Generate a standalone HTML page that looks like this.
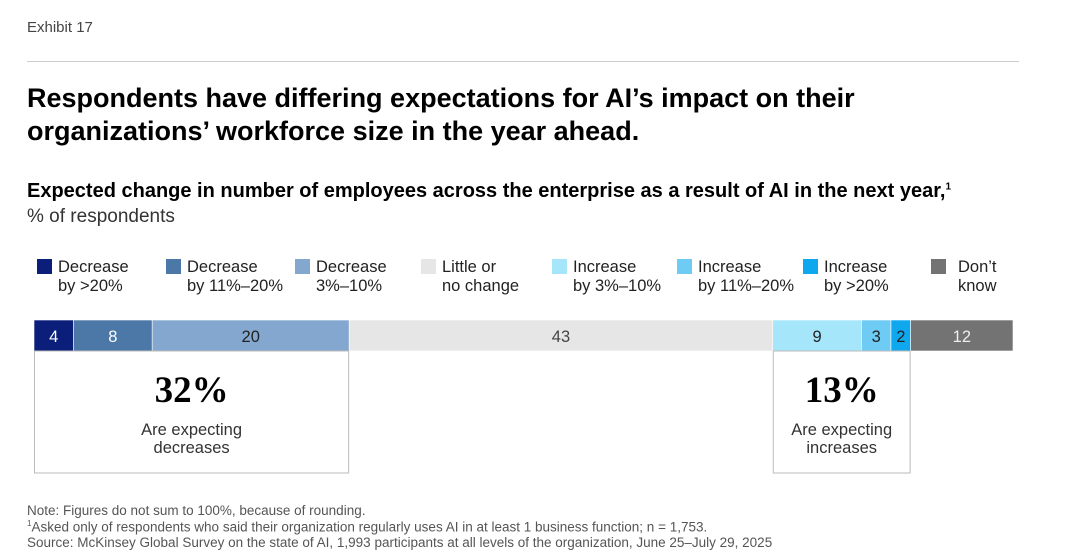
<!DOCTYPE html>
<html><head><meta charset="utf-8">
<style>
body{margin:0;width:1080px;height:556px;background:#fff;font-family:"Liberation Sans",sans-serif;color:#000;position:relative;overflow:hidden}
.abs{position:absolute}
.leg{position:absolute;top:258px;font-size:16.5px;line-height:19px;color:#222}
.sw{position:absolute;left:0;top:1px;width:15px;height:15px}
.leg span{position:absolute;left:21px;white-space:nowrap}
.note{position:absolute;left:27px;font-size:13.5px;color:#555;white-space:nowrap}
</style></head><body>
<div class="abs" style="left:27px;top:19px;font-size:15px;color:#444">Exhibit 17</div>
<div class="abs" style="left:27px;top:61px;width:992px;height:1px;background:#ccc"></div>
<div class="abs" style="left:27px;top:82px;font-size:27px;font-weight:bold;line-height:33px">Respondents have differing expectations for AI’s impact on their<br>organizations’ workforce size in the year ahead.</div>
<div class="abs" style="left:27px;top:180px;font-size:20px;font-weight:bold;white-space:nowrap">Expected change in number of employees across the enterprise as a result of AI in the next year,<sup style="font-size:10px">1</sup></div>
<div class="abs" style="left:27px;top:206px;font-size:19px;color:#333">% of respondents</div>
<div id="legend"></div>
<svg class="abs" style="left:0;top:0" width="1080" height="556" id="chart"></svg>
<div class="note" style="top:503px">Note: Figures do not sum to 100%, because of rounding.</div>
<div class="note" style="top:519px"><sup style="font-size:8px">1</sup>Asked only of respondents who said their organization regularly uses AI in at least 1 business function; n = 1,753.</div>
<div class="note" style="top:535px">Source: McKinsey Global Survey on the state of AI, 1,993 participants at all levels of the organization, June 25–July 29, 2025</div>
<script>
const categories=["Decrease by >20%","Decrease by 11%–20%","Decrease 3%–10%","Little or no change","Increase by 3%–10%","Increase by 11%–20%","Increase by >20%","Don't know"];
const legendLines=[["Decrease","by >20%"],["Decrease","by 11%–20%"],["Decrease","3%–10%"],["Little or","no change"],["Increase","by 3%–10%"],["Increase","by 11%–20%"],["Increase","by >20%"],["Don’t","know"]];
const values=[4,8,20,43,9,3,2,12];
const summaryValues=["32%","13%"];
const summaryLabels=[["Are expecting","decreases"],["Are expecting","increases"]];
const colors=["#0b1f7a","#4c78a8","#84a7cf","#e6e6e6","#a6e6fb","#6ecbf3","#0fa8ee","#737373"];
const textColors=["#fff","#fff","#222","#444","#222","#222","#222","#eee"];
const legendX=[37,166,295,421,552,677,803,931];
const X0=34,X1=1013,BY=320,BH=31,UNIT=9.85;
const sx=v=>Math.min(X1,X0+v*UNIT);
const svg=document.getElementById('chart');const NS="http://www.w3.org/2000/svg";
function mk(t,a,p){const e=document.createElementNS(NS,t);for(const k in a)e.setAttribute(k,a[k]);(p||svg).appendChild(e);return e;}
const lg=document.getElementById('legend');
categories.forEach((c,i)=>{const d=document.createElement('div');d.className='leg';d.style.left=legendX[i]+'px';


d.innerHTML='<div class="sw" style="background:'+colors[i]+'"></div><span style="'+(i==7?'left:27px':'')+'">'+legendLines[i].join('<br>')+'</span>';lg.appendChild(d);});
let cum=0;const edges=[];
values.forEach((v,i)=>{const x=sx(cum),w=(i==values.length-1?X1:sx(cum+v))-x;edges.push([x,x+w]);
const r=mk('rect',{x:x,y:BY,width:w,height:BH,fill:colors[i],stroke:'#fff','stroke-width':0.6});


const t=mk('text',{x:x+w/2,y:BY+22,'text-anchor':'middle','font-size':16.5,fill:textColors[i],'font-family':'Liberation Sans'});t.textContent=v;


cum+=v;});
const groups=[[0,2],[4,6]];
groups.forEach((g,j)=>{const x0=edges[g[0]][0],x1=edges[g[1]][1],cx=(x0+x1)/2;
const b=mk('rect',{x:x0+0.5,y:BY+BH,width:x1-x0-1,height:122,fill:'none',stroke:'#bbb','stroke-width':1});


const t=mk('text',{x:cx,y:402,'text-anchor':'middle','font-size':37,'font-weight':'bold','font-family':'Liberation Serif'});t.textContent=summaryValues[j];


summaryLabels[j].forEach((l,k)=>{const s=mk('text',{x:cx,y:435+k*18,'text-anchor':'middle','font-size':16.5,fill:'#333','font-family':'Liberation Sans'});s.textContent=l;

});
});
</script>
</body></html>
